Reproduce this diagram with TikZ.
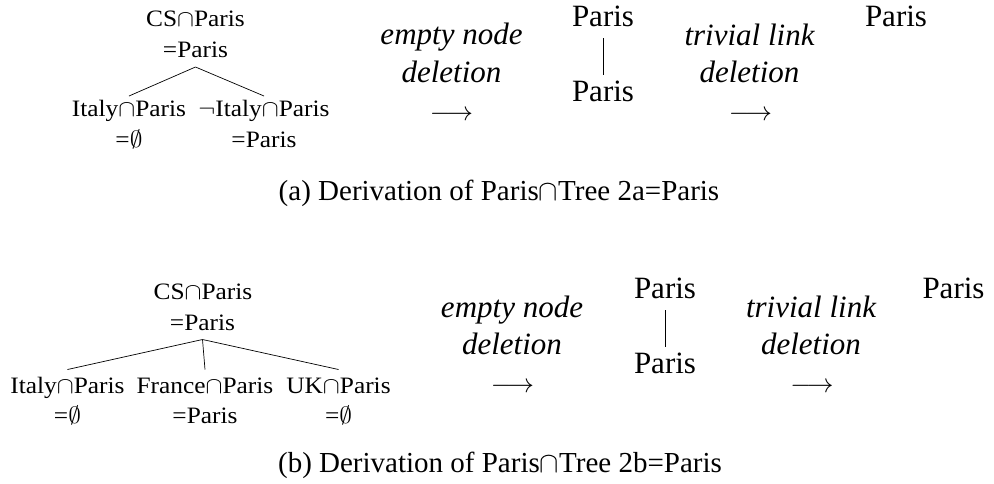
\RequirePackage{fix-cm}
\documentclass[tikz,border=0pt]{standalone}
\usepackage{fontspec}
\setmainfont{Liberation Serif}
\usepackage{graphicx}
\newcommand{\treetxt}[1]{\scalebox{1.08}[1]{#1}}
\tikzset{
  treenode/.style={anchor=base,inner sep=0pt,font=\fontsize{23.5}{28}\selectfont},
  opnode/.style={anchor=base,inner sep=0pt,font=\fontsize{31}{38}\selectfont\itshape},
  bignode/.style={anchor=base,inner sep=0pt,font=\fontsize{31}{38}\selectfont},
  arrnode/.style={anchor=base,inner sep=0pt,font=\fontsize{26.7}{30}\selectfont},
  capnode/.style={anchor=base,inner sep=0pt,font=\fontsize{29}{34}\selectfont},
  link/.style={line width=0.7pt,black}
}
\begin{document}
\begin{tikzpicture}[x=1pt,y=-1pt]
\useasboundingbox (0,0) rectangle (994,483);
% ---------- (a) ----------
\node[treenode] (ar1) at (195.5,26) {\treetxt{CS$\cap$Paris}};
\node[treenode] (ar2) at (195.5,57) {\treetxt{=Paris}};
\node[treenode] (al1) at (129,116) {\treetxt{Italy$\cap$Paris}};
\node[treenode] (al2) at (129,147) {\treetxt{=$\emptyset$}};
\node[treenode] (ac1) at (264,116) {\treetxt{$\neg$Italy$\cap$Paris}};
\node[treenode] (ac2) at (264,147) {\treetxt{=Paris}};
\draw[link] ([yshift=-10pt]ar2.base) -- ([yshift=20pt]al1.base);
\draw[link] ([yshift=-10pt]ar2.base) -- ([yshift=20pt]ac1.base);

\node[opnode] (ae1) at (451.5,44) {empty node};
\node[opnode] (ae2) at (451.5,82) {deletion};
\node[arrnode] (aa1) at (451.5,120.7) {$\longrightarrow$};

\node[bignode] (ap1) at (603,26) {Paris};
\node[bignode] (ap2) at (603,101.7) {Paris};
\draw[link] ([yshift=-12pt]ap1.base) -- ([yshift=26.7pt]ap2.base);

\node[opnode] (at1) at (749.5,45) {trivial link};
\node[opnode] (at2) at (749.5,82) {deletion};
\node[arrnode] (aa2) at (750.5,120.7) {$\longrightarrow$};

\node[bignode] (ap3) at (896,26) {Paris};

\node[capnode] (acap) at (499,200) {(a) Derivation of Paris$\cap$Tree 2a=Paris};

% ---------- (b) ----------
\node[treenode] (br1) at (203,299) {\treetxt{CS$\cap$Paris}};
\node[treenode] (br2) at (202.5,330) {\treetxt{=Paris}};
\node[treenode] (bl1) at (67.5,393) {\treetxt{Italy$\cap$Paris}};
\node[treenode] (bl2) at (67.5,423) {\treetxt{=$\emptyset$}};
\node[treenode] (bm1) at (205,393) {\treetxt{France$\cap$Paris}};
\node[treenode] (bm2) at (205,423) {\treetxt{=Paris}};
\node[treenode] (bq1) at (338.5,393) {\treetxt{UK$\cap$Paris}};
\node[treenode] (bq2) at (338.5,423) {\treetxt{=$\emptyset$}};
\draw[link] ([yshift=-9.5pt]br2.base) -- ([yshift=23.5pt]bl1.base);
\draw[link] ([yshift=-9.5pt]br2.base) -- ([yshift=23.5pt]bm1.base);
\draw[link] ([yshift=-9.5pt]br2.base) -- ([yshift=23.5pt]bq1.base);

\node[opnode] (be1) at (512,317) {empty node};
\node[opnode] (be2) at (512,354) {deletion};
\node[arrnode] (ba1) at (512.5,392.7) {$\longrightarrow$};

\node[bignode] (bp1) at (665,298) {Paris};
\node[bignode] (bp2) at (665,373.7) {Paris};
\draw[link] ([yshift=-12pt]bp1.base) -- ([yshift=26.7pt]bp2.base);

\node[opnode] (bt1) at (811,317) {trivial link};
\node[opnode] (bt2) at (811,354) {deletion};
\node[arrnode] (ba2) at (812,392.7) {$\longrightarrow$};

\node[bignode] (bp3) at (953.5,298) {Paris};

\node[capnode] (bcap) at (500,472) {(b) Derivation of Paris$\cap$Tree 2b=Paris};
\end{tikzpicture}
\end{document}
